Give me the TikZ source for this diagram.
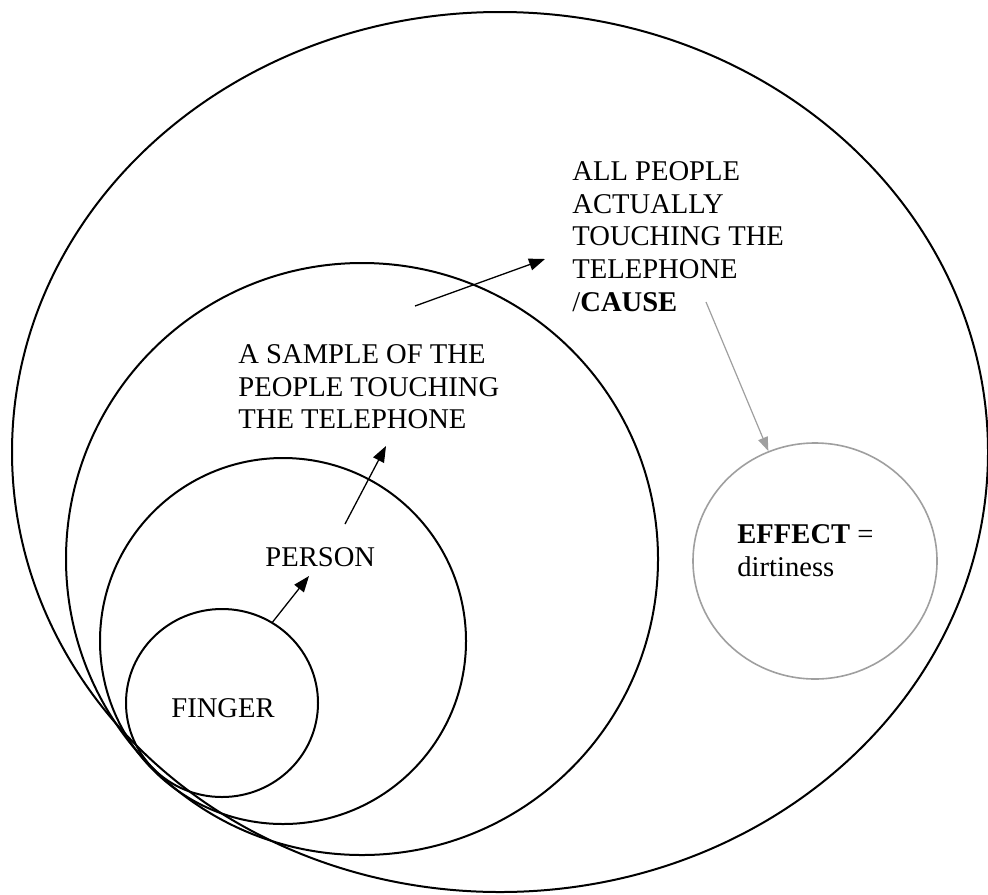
\documentclass[tikz,border=0pt]{standalone}
\usepackage{fontspec}
\setmainfont{Liberation Serif}
\usetikzlibrary{shapes.geometric,arrows.meta}

\tikzset{
  ring/.style = {draw, ellipse, line width=1pt, inner sep=0pt},
  effectring/.style = {ring, draw=gray!75, line width=0.8pt},
  label/.style = {anchor=north west, inner sep=0pt, align=left,
                  font=\fontsize{14.3}{16.4}\selectfont},
  arr/.style = {line width=0.65pt, -{Triangle[length=8pt,width=6pt]}},
  grayarr/.style = {line width=0.6pt, draw=gray!75,
                    -{Triangle[length=7pt,width=5pt]}, gray!75}
}

\begin{document}
\begin{tikzpicture}[x=0.5pt,y=-0.5pt]
    \useasboundingbox (0,0) rectangle (988,894);
    % the rings, all touching at the lower left
    \node[ring, minimum width=488pt, minimum height=440pt] (all) at (500,452) {};
    \node[ring, minimum width=296pt, minimum height=296pt] (sample) at (362,559) {};
    \node[ring, minimum width=183pt, minimum height=183pt] (person) at (283,641) {};
    \node[ring, minimum width=96pt, minimum height=94pt] (finger) at (222,703) {};
    \node[effectring, minimum width=122pt, minimum height=118pt] (effect) at (815,561) {};

    % texts
    \node[label] (allText) at (572,161) {ALL PEOPLE\\ACTUALLY\\TOUCHING THE\\TELEPHONE\\/\textbf{CAUSE}};
    \node[label] (sampleText) at (238,344) {A SAMPLE OF THE\\PEOPLE TOUCHING\\THE TELEPHONE};
    \node[label] (personText) at (265,547) {PERSON};
    \node[label] (fingerText) at (171,698) {FINGER};
    \node[label] (effectText) at (737,524) {\textbf{EFFECT} =\\dirtiness};

    % arrow ends
    \coordinate (p1) at (309,576);
    \coordinate (s0) at (345,524);
    \coordinate (s1) at (386,446);
    \coordinate (a0) at (415,306);
    \coordinate (a1) at (545,259);
    \coordinate (c0) at (706,302);

    \draw[arr] (finger.58) -- (p1);
    \draw[arr] (s0) -- (s1);
    \draw[arr] (a0) -- (a1);
    \draw[grayarr] (c0) -- (effect.113);
\end{tikzpicture}
\end{document}
